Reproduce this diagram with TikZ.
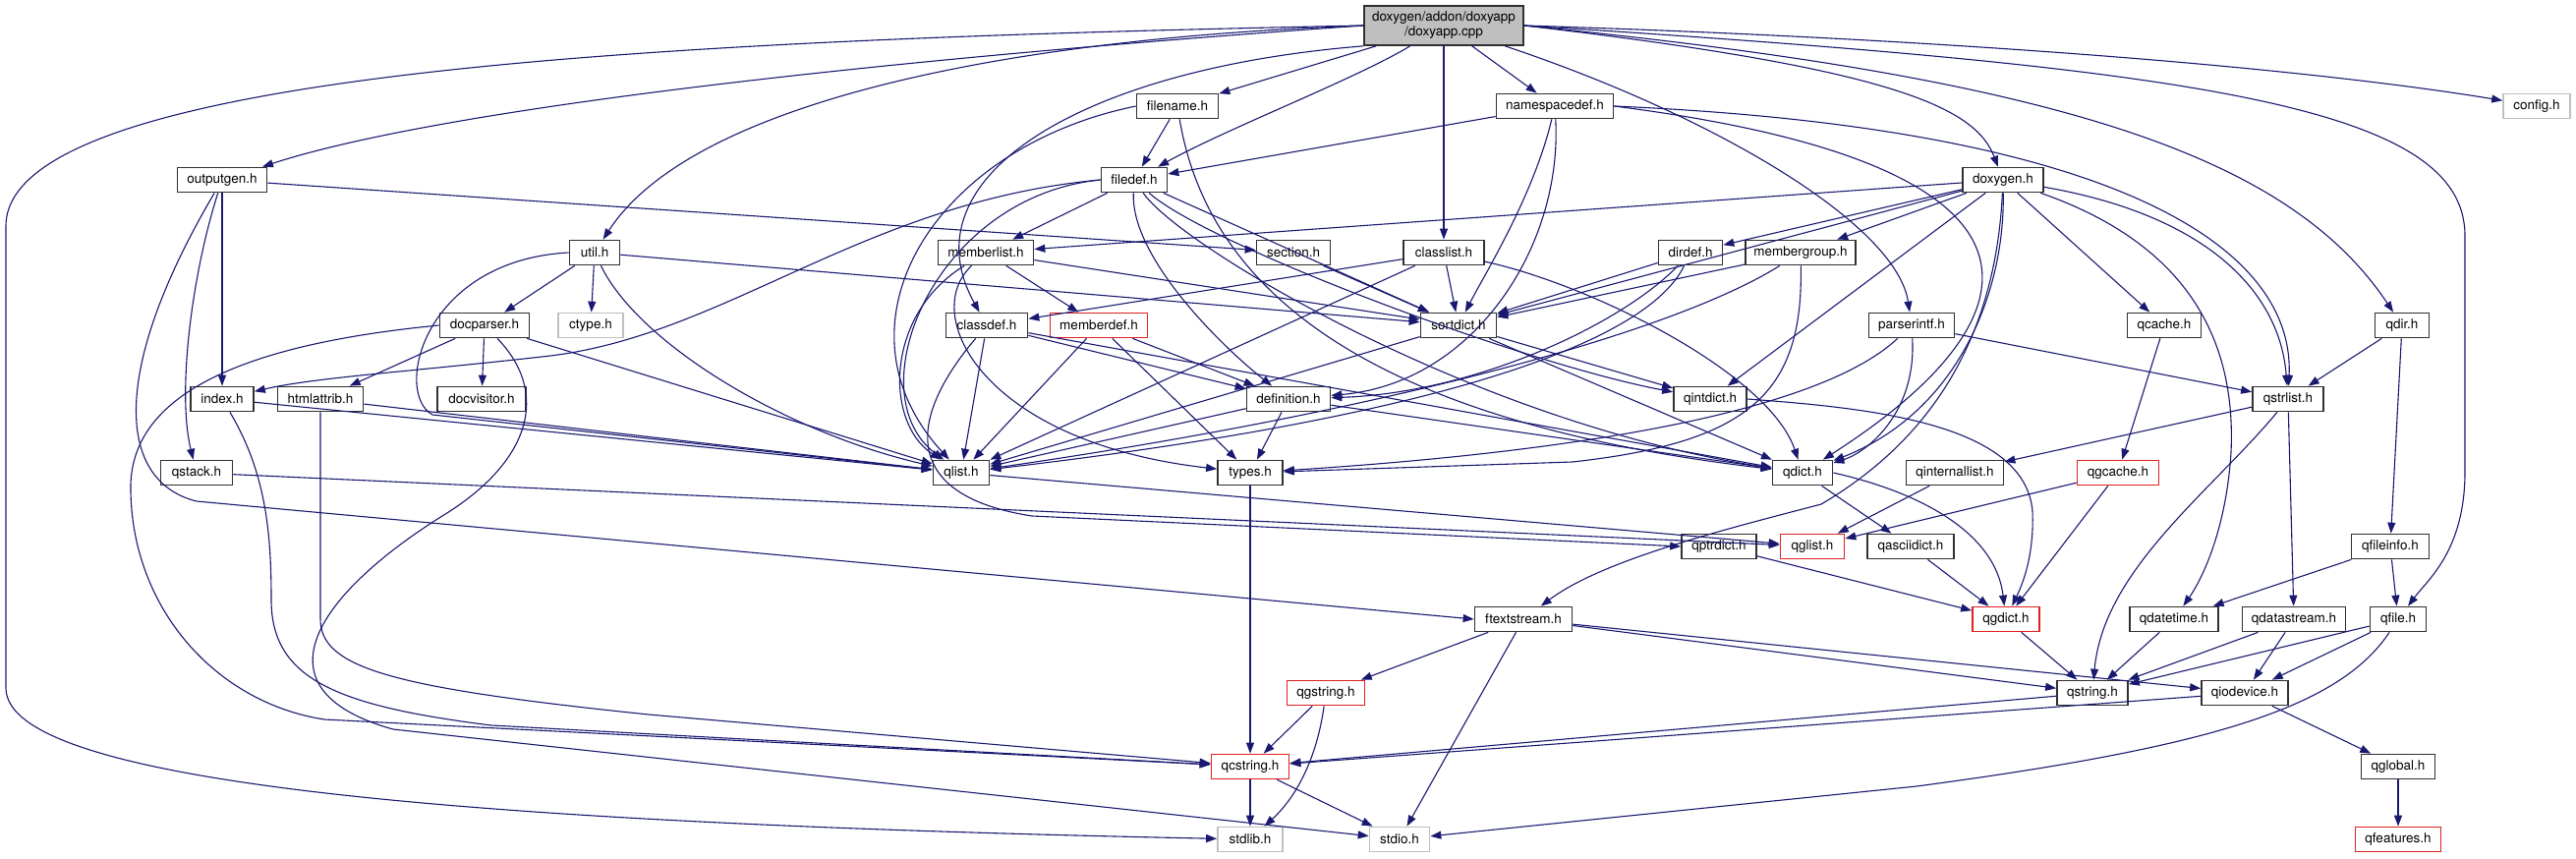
\documentclass[tikz,border=0pt]{standalone}
\usepackage{fontspec}
\setmainfont{TeX Gyre Heros}
\usetikzlibrary{arrows.meta}
\definecolor{edgec}{HTML}{191970}
\definecolor{nodebd}{HTML}{303030}
\definecolor{redbd}{HTML}{E02020}
\definecolor{graybd}{HTML}{BFBFBF}
\definecolor{rootfill}{HTML}{BFBFBF}
\tikzset{
  nb/.style={draw=nodebd, line width=1.7pt, fill=white, minimum height=25, inner sep=0pt,
             font=\fontsize{13.5}{15}\selectfont},
  rb/.style={nb, draw=redbd},
  gb/.style={nb, draw=graybd},
  e/.style={draw=edgec, line width=1.1pt, -{Triangle[length=11pt,width=8pt]}},
}
\begin{document}
\begin{tikzpicture}[x=1pt,y=-1pt]
\useasboundingbox[fill=white] (0,0) rectangle (2621,873);
% nodes
\node[nb, fill=rootfill, minimum width=162, minimum height=40, align=center] (doxyapp) at (1469,26) {doxygen/addon/doxyapp\\/doxyapp.cpp};
\node[nb, minimum width=91] (outputgen) at (226,183) {outputgen.h};
\node[nb, minimum width=51] (util) at (605,257) {util.h};
\node[nb, minimum width=91] (docparser) at (493,331) {docparser.h};
\node[gb, minimum width=66] (ctype) at (601,331) {ctype.h};
\node[nb, minimum width=64] (index) at (226,406) {index.h};
\node[nb, minimum width=87] (htmlattrib) at (326,406) {htmlattrib.h};
\node[nb, minimum width=90] (docvisitor) at (490,406) {docvisitor.h};
\node[nb, minimum width=73] (qstack) at (200,481) {qstack.h};
\node[nb, minimum width=83] (filename) at (1198,108) {filename.h};
\node[nb, minimum width=67] (filedef) at (1154,183) {filedef.h};
\node[nb, minimum width=97] (memberlist) at (1003,257) {memberlist.h};
\node[nb, minimum width=83] (classdef) at (1004,331) {classdef.h};
\node[rb, minimum width=99] (memberdef) at (1118,331) {memberdef.h};
\node[nb, minimum width=75] (section) at (1316,257) {section.h};
\node[nb, minimum width=85] (definition) at (1311,406) {definition.h};
\node[nb, minimum width=119] (namespacedef) at (1582,108) {namespacedef.h};
\node[nb, minimum width=82] (classlist) at (1469,257) {classlist.h};
\node[nb, minimum width=77] (sortdict) at (1484,331) {sortdict.h};
\node[nb, minimum width=65] (dirdef) at (1720,257) {dirdef.h};
\node[nb, minimum width=112] (membergroup) at (1832,257) {membergroup.h};
\node[nb, minimum width=87] (parserintf) at (1945,331) {parserintf.h};
\node[nb, minimum width=74] (qintdict) at (1740,406) {qintdict.h};
\node[gb, minimum width=68] (config) at (2581,108) {config.h};
\node[nb, minimum width=82] (doxygen) at (2038,183) {doxygen.h};
\node[nb, minimum width=75] (qcache) at (2202,331) {qcache.h};
\node[nb, minimum width=55] (qdir) at (2444,331) {qdir.h};
\node[nb, minimum width=72] (qstrlist) at (2328,406) {qstrlist.h};
\node[nb, minimum width=57] (qlist) at (978,481) {qlist.h};
\node[nb, minimum width=66] (types) at (1272,481) {types.h};
\node[rb, minimum width=79] (qcstring) at (1272,780) {qcstring.h};
\node[gb, minimum width=66] (stdlib) at (1272,854) {stdlib.h};
\node[nb, minimum width=61] (qdict) at (1834,481) {qdict.h};
\node[nb, minimum width=99] (qinternallist) at (1989,481) {qinternallist.h};
\node[nb, minimum width=76] (qptrdict) at (1749,556) {qptrdict.h};
\node[rb, minimum width=65] (qglist) at (1844,556) {qglist.h};
\node[nb, minimum width=88] (qasciidict) at (1944,556) {qasciidict.h};
\node[nb, minimum width=99] (ftextstream) at (1550,630) {ftextstream.h};
\node[rb, minimum width=79] (qgstring) at (1349,705) {qgstring.h};
\node[gb, minimum width=61] (stdio) at (1424,854) {stdio.h};
\node[rb, minimum width=83] (qgcache) at (2155,481) {qgcache.h};
\node[nb, minimum width=79] (qfileinfo) at (2432,556) {qfileinfo.h};
\node[rb, minimum width=68] (qgdict) at (2041,630) {qgdict.h};
\node[nb, minimum width=90] (qdatetime) at (2212,630) {qdatetime.h};
\node[nb, minimum width=105] (qdatastream) at (2334,630) {qdatastream.h};
\node[nb, minimum width=57] (qfile) at (2440,630) {qfile.h};
\node[nb, minimum width=72] (qstring) at (2129,705) {qstring.h};
\node[nb, minimum width=88] (qiodevice) at (2284,705) {qiodevice.h};
\node[nb, minimum width=75] (qglobal) at (2440,780) {qglobal.h};
\node[rb, minimum width=87] (qfeatures) at (2440,854) {qfeatures.h};
% edges from root
\draw[e] (doxyapp.west) .. controls (900,60) and (450,110) .. (outputgen);
\draw[e] (doxyapp.west) .. controls (1000,40) and (700,110) .. (util);
\draw[e] (doxyapp.south west) .. controls (1100,70) and (920,180) .. (classdef);
\draw[e] (doxyapp) -- (filename);
\draw[e] (doxyapp) .. controls (1380,80) and (1250,130) .. (filedef);
\draw[e] (doxyapp) -- (namespacedef);
\draw[e] (doxyapp) -- (classlist);
\draw[e] (doxyapp) .. controls (1750,120) and (1930,230) .. (parserintf);
\draw[e] (doxyapp.east) .. controls (1930,70) and (2010,110) .. (doxygen);
\draw[e] (doxyapp.east) .. controls (2000,40) and (2350,70) .. (config);
\draw[e] (doxyapp.east) .. controls (2100,80) and (2330,160) .. (qdir);
\draw[e] (doxyapp.east) .. controls (2250,70) and (2508,110) .. (2508,240) -- (2508,480) .. controls (2508,560) and (2470,590) .. (qfile);
\draw[e] (doxyapp.west) .. controls (700,40) and (6,70) .. (6,230) -- (6,700) .. controls (6,800) and (500,838) .. (stdlib);
% outputgen
\draw[e] (outputgen) -- (section);
\draw[e] (outputgen) -- (index);
\draw[e] (outputgen) .. controls (195,280) and (180,400) .. (qstack);
\draw[e] (outputgen) .. controls (110,380) and (120,490) .. (200,510) -- (ftextstream.west);
% util, docparser, index, htmlattrib
\draw[e] (util) -- (docparser);
\draw[e] (util) -- (ctype);
\draw[e] (util) -- (sortdict);
\draw[e] (util) .. controls (650,350) and (800,440) .. (qlist);
\draw[e] (util.west) .. controls (430,265) and (400,400) .. (440,422) -- (qlist);
\draw[e] (docparser) -- (htmlattrib);
\draw[e] (docparser) -- (docvisitor);
\draw[e] (docparser) -- (qlist);
\draw[e] (docparser.west) .. controls (250,350) and (130,400) .. (133,500) .. controls (135,620) and (220,715) .. (330,732) -- (qcstring);
\draw[e] (docparser) .. controls (560,400) and (540,470) .. (450,525) .. controls (330,600) and (250,700) .. (400,742) -- (stdio);
\draw[e] (index) -- (qlist);
\draw[e] (index) .. controls (270,480) and (276,540) .. (276,610) .. controls (276,690) and (340,718) .. (500,738) -- (qcstring);
\draw[e] (htmlattrib) -- (qlist);
\draw[e] (htmlattrib) -- (326,630) .. controls (326,680) and (400,700) .. (660,727) -- (qcstring);
% filename, filedef, namespacedef
\draw[e] (filename) -- (filedef);
\draw[e] (filename.west) .. controls (950,150) and (840,330) .. (qlist);
\draw[e] (filename) .. controls (1230,300) and (1400,430) .. (qdict);
\draw[e] (namespacedef) -- (filedef);
\draw[e] (namespacedef) .. controls (1560,200) and (1510,280) .. (sortdict);
\draw[e] (namespacedef) .. controls (1590,250) and (1500,390) .. (definition);
\draw[e] (namespacedef.east) .. controls (2150,130) and (2335,250) .. (qstrlist);
\draw[e] (namespacedef.east) .. controls (2130,170) and (2070,330) .. (qdict);
\draw[e] (filedef) -- (memberlist);
\draw[e] (filedef.west) .. controls (880,205) and (740,340) .. (560,362) .. controls (420,378) and (320,384) .. (index);
\draw[e] (filedef.west) .. controls (950,200) and (870,400) .. (qlist);
\draw[e] (filedef) .. controls (1150,260) and (1240,350) .. (definition);
\draw[e] (filedef) -- (sortdict);
\draw[e] (filedef) .. controls (1230,250) and (1550,370) .. (qintdict);
\draw[e] (filedef) .. controls (1200,250) and (1500,430) .. (qdict);
% memberlist etc.
\draw[e] (memberlist) -- (memberdef);
\draw[e] (memberlist) .. controls (900,320) and (900,430) .. (qlist);
\draw[e] (memberlist) -- (sortdict);
\draw[e] (memberlist) .. controls (935,320) and (1000,450) .. (types);
\draw[e] (memberdef) -- (definition);
\draw[e] (memberdef) -- (types);
\draw[e] (memberdef) -- (qlist);
\draw[e] (classdef) -- (qlist);
\draw[e] (classdef) -- (definition);
\draw[e] (classdef) -- (qdict);
\draw[e] (classdef) .. controls (920,430) and (920,505) .. (1050,525) -- (qptrdict.west);
\draw[e] (section) -- (sortdict);
\draw[e] (classlist) -- (classdef);
\draw[e] (classlist) -- (sortdict);
\draw[e] (classlist) -- (qlist);
\draw[e] (classlist) .. controls (1620,290) and (1800,380) .. (qdict);
\draw[e] (sortdict) -- (qintdict);
\draw[e] (sortdict) -- (qlist);
\draw[e] (sortdict) -- (qdict);
\draw[e] (definition) -- (qlist);
\draw[e] (definition) -- (types);
\draw[e] (definition) -- (qdict);
\draw[e] (dirdef) -- (sortdict);
\draw[e] (dirdef) .. controls (1650,330) and (1500,400) .. (definition);
\draw[e] (dirdef) .. controls (1680,340) and (1500,420) .. (qlist);
\draw[e] (membergroup) -- (sortdict);
\draw[e] (membergroup) .. controls (1835,400) and (1780,450) .. (1600,470) -- (types);
\draw[e] (membergroup) .. controls (1700,340) and (1400,420) .. (qlist);
% doxygen
\draw[e] (doxygen) -- (memberlist);
\draw[e] (doxygen) -- (dirdef);
\draw[e] (doxygen) -- (membergroup);
\draw[e] (doxygen) -- (sortdict);
\draw[e] (doxygen) -- (qcache);
\draw[e] (doxygen) .. controls (2250,220) and (2320,300) .. (qstrlist);
\draw[e] (doxygen) -- (qintdict);
\draw[e] (doxygen) .. controls (2040,300) and (1990,420) .. (qdict);
\draw[e] (doxygen) .. controls (2230,250) and (2275,350) .. (2270,460) .. controls (2265,540) and (2240,590) .. (qdatetime);
\draw[e] (doxygen) .. controls (2030,350) and (1960,450) .. (1853,513) .. controls (1750,540) and (1630,570) .. (ftextstream);
% parserintf
\draw[e] (parserintf) -- (qstrlist);
\draw[e] (parserintf) .. controls (1950,420) and (1900,460) .. (qdict);
\draw[e] (parserintf) .. controls (1850,420) and (1600,460) .. (types);
% qt layer
\draw[e] (qcache) -- (qgcache);
\draw[e] (qdir) -- (qstrlist);
\draw[e] (qdir) -- (qfileinfo);
\draw[e] (qstrlist) -- (qinternallist);
\draw[e] (qstrlist) .. controls (2250,500) and (2140,580) .. (qstring);
\draw[e] (qstrlist) -- (qdatastream);
\draw[e] (qintdict.east) .. controls (1900,415) and (2060,430) .. (2068,520) .. controls (2070,570) and (2055,600) .. (qgdict);
\draw[e] (qdict.east) .. controls (1950,500) and (2030,540) .. (qgdict);
\draw[e] (qdict) -- (qasciidict);
\draw[e] (qlist) -- (qglist);
\draw[e] (qinternallist) -- (qglist);
\draw[e] (qstack) -- (qglist);
\draw[e] (qgcache) -- (qglist);
\draw[e] (qgcache) -- (qgdict);
\draw[e] (qptrdict) -- (qgdict);
\draw[e] (qasciidict) -- (qgdict);
\draw[e] (qgdict) -- (qstring);
\draw[e] (qfileinfo) -- (qdatetime);
\draw[e] (qfileinfo) -- (qfile);
\draw[e] (qdatetime) -- (qstring);
\draw[e] (qdatastream) -- (qstring);
\draw[e] (qdatastream) -- (qiodevice);
\draw[e] (qfile) -- (qstring);
\draw[e] (qfile) -- (qiodevice);
\draw[e] (qfile) .. controls (2380,720) and (2250,760) .. (1950,800) -- (stdio);
\draw[e] (qiodevice) -- (qglobal);
\draw[e] (qiodevice) -- (qcstring);
\draw[e] (qstring) -- (qcstring);
\draw[e] (qglobal) -- (qfeatures);
\draw[e] (ftextstream) -- (qgstring);
\draw[e] (ftextstream) -- (stdio);
\draw[e] (ftextstream) -- (qstring);
\draw[e] (ftextstream) -- (qiodevice);
\draw[e] (qgstring) -- (qcstring);
\draw[e] (qgstring) .. controls (1340,770) and (1320,810) .. (stdlib);
\draw[e] (types) -- (qcstring);
\draw[e] (qcstring) -- (stdlib);
\draw[e] (qcstring) -- (stdio);
\end{tikzpicture}
\end{document}
